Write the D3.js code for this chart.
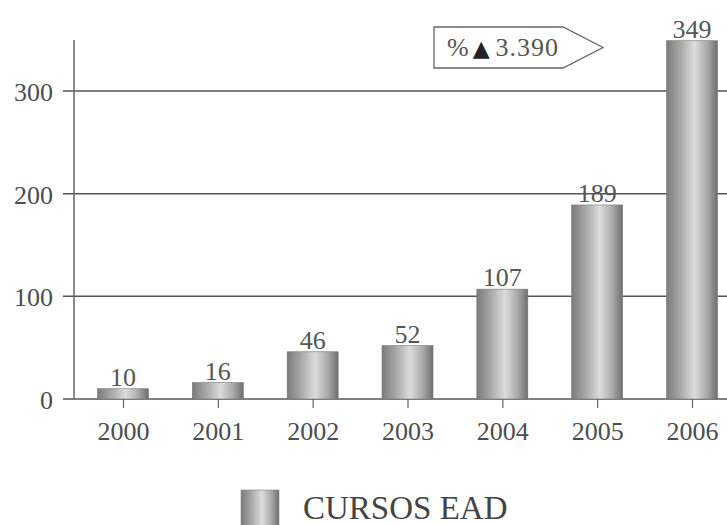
<!DOCTYPE html>
<html>
<head>
<meta charset="utf-8">
<script src="https://cdn.jsdelivr.net/npm/d3@7"></script>
<style>
  html, body { margin: 0; padding: 0; background: #fff; }
  svg { display: block; font-family: "Liberation Serif", "DejaVu Serif", serif; }
</style>
</head>
<body>
<svg id="chart" width="727" height="525"></svg>
<script>
// Cursos EAD per year
const years = ["2000", "2001", "2002", "2003", "2004", "2005", "2006"];
const cursos = [10, 16, 46, 52, 107, 189, 349];
const yTicks = [0, 100, 200, 300];
const growthPrefix = "%";
const growthArrow = "\u25B2";
const growthValue = "3.390";
const legendLabel = "CURSOS EAD";

const svg = d3.select("#chart");
const ink = "#4d4d4d";

const x = d3.scalePoint().domain(years).range([123, 692]);
const barW = 51;
const y = d3.scaleLinear().domain([0, 350]).range([399, 39.7]);

// horizontal cylinder shading for the bars
const defs = svg.append("defs");
const grad = defs.append("linearGradient").attr("id", "cyl")
  .attr("x1", "0%").attr("x2", "100%").attr("y1", "0%").attr("y2", "0%");
[["0%", "#7b7b7b"], ["25%", "#a4a4a4"], ["55%", "#dcdcdc"], ["80%", "#a9a9a9"], ["100%", "#6e6e6e"]]
  .forEach(([o, c]) => grad.append("stop").attr("offset", o).attr("stop-color", c));

// y axis labels
const yAxis = d3.axisLeft(y).tickValues(yTicks).tickSize(0).tickPadding(21);
const gy = svg.append("g").attr("transform", "translate(74,0)").call(yAxis);
gy.select(".domain").remove();
gy.selectAll("text").attr("font-size", 26).attr("fill", ink)
  .attr("font-family", "Liberation Serif, serif").attr("dy", "0.36em");

// gridlines
svg.append("g").selectAll("line").data(yTicks).join("line")
  .attr("x1", 63).attr("x2", 727)
  .attr("y1", d => y(d)).attr("y2", d => y(d))
  .attr("stroke", "#555").attr("stroke-width", 1.5);

// vertical axis line
svg.append("line").attr("x1", 74).attr("x2", 74)
  .attr("y1", 40).attr("y2", y(0))
  .attr("stroke", "#666").attr("stroke-width", 1.5);

// bars
svg.append("g").selectAll("rect").data(cursos).join("rect")
  .attr("x", (d, i) => x(years[i]) - barW / 2)
  .attr("width", barW)
  .attr("y", d => y(d))
  .attr("height", d => y(0) - y(d))
  .attr("fill", "url(#cyl)")
  .attr("stroke", "#777").attr("stroke-width", 0.6);

// value labels
svg.append("g").selectAll("text").data(cursos).join("text")
  .attr("x", (d, i) => x(years[i]))
  .attr("y", d => y(d) - 3)
  .attr("text-anchor", "middle")
  .attr("font-size", 26).attr("fill", "#555")
  .text(d => d);

// x axis
const xAxis = d3.axisBottom(x).tickSize(9).tickPadding(14);
const gx = svg.append("g").attr("transform", `translate(0,${y(0)})`).call(xAxis);
gx.select(".domain").remove();
gx.selectAll("line").attr("stroke", "#666").attr("stroke-width", 1.2);
gx.selectAll("text").attr("font-size", 26).attr("fill", ink)
  .attr("font-family", "Liberation Serif, serif").attr("dy", "0.71em");

// growth callout arrow box
const box = svg.append("g");
box.append("path")
  .attr("d", "M434,27 L563,27 L603,47.5 L563,68 L434,68 Z")
  .attr("fill", "#fff").attr("stroke", "#666").attr("stroke-width", 1.3);
const t = box.append("text").attr("x", 447).attr("y", 56)
  .attr("font-size", 26).attr("fill", "#555")
  .attr("font-family", "Liberation Serif, serif");
t.append("tspan").text(growthPrefix);
t.append("tspan").attr("font-family", "DejaVu Sans, sans-serif").attr("font-size", 22)
  .attr("fill", "#222").attr("dx", 4).text(growthArrow);
t.append("tspan").attr("dx", 6).attr("letter-spacing", 1).text(growthValue);

// legend
svg.append("rect").attr("x", 241).attr("y", 490).attr("width", 38).attr("height", 40)
  .attr("fill", "url(#cyl)").attr("stroke", "#888").attr("stroke-width", 0.6);
svg.append("text").attr("x", 303).attr("y", 519)
  .attr("font-size", 33).attr("fill", "#444")
  .text(legendLabel);
</script>
</body>
</html>
